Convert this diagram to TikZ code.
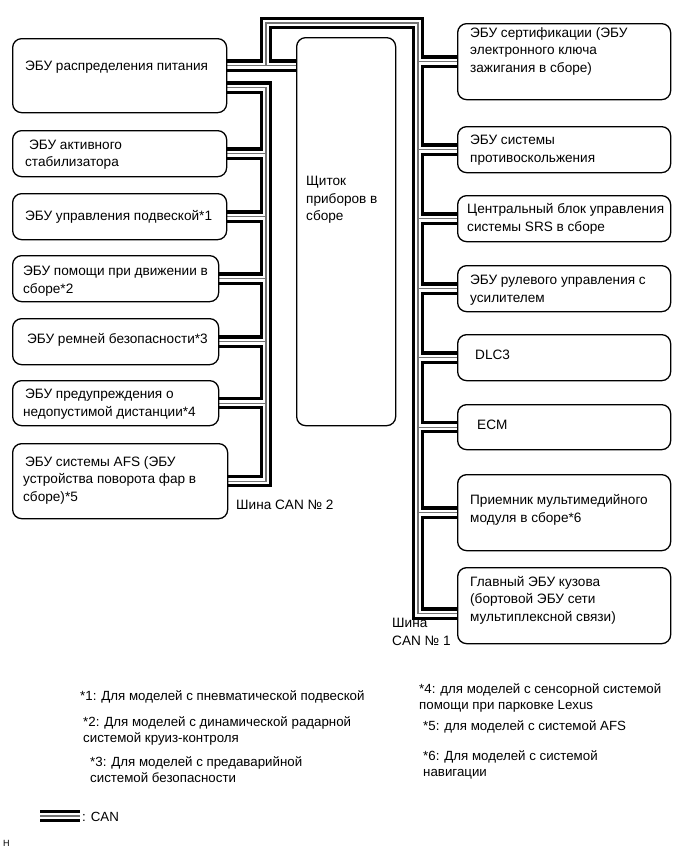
\documentclass[tikz,border=0pt]{standalone}
\usepackage{fontspec}
\setmainfont{Liberation Sans}
\usetikzlibrary{backgrounds}
\newcommand\canbus[1]{%
  \draw[#1] (L1a) -- (L1a -| tL) -- (tL) -- (tR) -- (R8a -| tR) -- (R8a);
  \draw[#1] (L1a -| tL) -- (L1a -| IP.west);
  \draw[#1] (L1b) -- (L1b -| tL) -- (L7.east -| tL) -- (L7.east);
  \foreach \n in {L2,L3,L4,L5,L6} {\draw[#1] (\n.east) -- (\n.east -| tL);}
  \foreach \n in {R1,R2,R3,R4,R5,R6,R7} {\draw[#1] (\n.west) -- (\n.west -| tR);}
  \draw[#1] (lgA) -- (lgB);
}
\begin{document}
\begin{tikzpicture}[x=1bp,y=-1bp,
  box/.style={draw, line width=1.3bp, rounded corners=9bp, fill=white, inner sep=0pt, anchor=north west},
  txt/.style={inner sep=0pt, align=left, anchor=west, font=\fontsize{13.6bp}{17.5bp}\selectfont},
  note/.style={inner sep=0pt, align=left, anchor=west, font=\fontsize{13.3bp}{16bp}\selectfont},
  canA/.style={line width=12.5bp, black, line join=miter, line cap=butt},
  canB/.style={line width=6bp, white, line join=miter, line cap=butt},
  canC/.style={line width=1.2bp, black!55, line join=miter, line cap=butt},
]
\useasboundingbox (0,0) rectangle (691,855);

% boxes
\node[box, minimum width=214bp, minimum height=74bp] (L1) at (12,38) {};
\node[box, minimum width=214bp, minimum height=46bp] (L2) at (12,130) {};
\node[box, minimum width=214bp, minimum height=46bp] (L3) at (12,193) {};
\node[box, minimum width=206bp, minimum height=46bp] (L4) at (12,255) {};
\node[box, minimum width=206bp, minimum height=46bp] (L5) at (12,318) {};
\node[box, minimum width=206bp, minimum height=45bp] (L6) at (12,380) {};
\node[box, minimum width=215bp, minimum height=75bp] (L7) at (12,443) {};
\node[box, minimum width=99bp, minimum height=388bp] (IP) at (296,37) {};
\node[box, minimum width=213bp, minimum height=76bp] (R1) at (457,23) {};
\node[box, minimum width=213bp, minimum height=46bp] (R2) at (457,126) {};
\node[box, minimum width=213bp, minimum height=46bp] (R3) at (457,195) {};
\node[box, minimum width=213bp, minimum height=46bp] (R4) at (457,265) {};
\node[box, minimum width=213bp, minimum height=46bp] (R5) at (457,334) {};
\node[box, minimum width=213bp, minimum height=45bp] (R6) at (457,404) {};
\node[box, minimum width=213bp, minimum height=76bp] (R7) at (457,474) {};
\node[box, minimum width=213bp, minimum height=76bp] (R8) at (457,567) {};

% bus geometry
\coordinate (tL) at (266,23);
\coordinate (tR) at (418,23);
\coordinate (L1a) at ([yshift=10bp]L1.east);
\coordinate (L1b) at ([yshift=-12bp]L1.east);
\coordinate (R8a) at ([yshift=-8bp]R8.west);
\coordinate (lgA) at (40,816);
\coordinate (lgB) at (80,816);

\begin{scope}[on background layer]
  \canbus{canA}
  \canbus{canB}
  \canbus{canC}
\end{scope}

% texts
\node[txt] (tL1) at (25,67) {ЭБУ распределения питания};
\node[txt] (tL2) at (25,154.5) {\hspace*{4bp}ЭБУ активного\\стабилизатора};
\node[txt] (tL3) at (25,217) {ЭБУ управления подвеской*1};
\node[txt] (tL4) at (23,281) {ЭБУ помощи при движении в\\сборе*2};
\node[txt] (tL5) at (27,340) {ЭБУ ремней безопасности*3};
\node[txt] (tL6) at (23,404) {\hspace*{2bp}ЭБУ предупреждения о\\недопустимой дистанции*4};
\node[txt] (tL7) at (23,480) {\hspace*{2bp}ЭБУ системы AFS (ЭБУ\\устройства поворота фар в\\сборе)*5};
\node[txt] (tIP) at (306,200) {Щиток\\приборов в\\сборе};
\node[txt] (tR1) at (470,51) {ЭБУ сертификации (ЭБУ\\электронного ключа\\зажигания в сборе)};
\node[txt] (tR2) at (470,150) {ЭБУ системы\\противоскольжения};
\node[txt] (tR3) at (467,219) {Центральный блок управления\\системы SRS в сборе};
\node[txt] (tR4) at (470,290) {ЭБУ рулевого управления с\\усилителем};
\node[txt] (tR5) at (475,355) {DLC3};
\node[txt] (tR6) at (477,425) {ECM};
\node[txt] (tR7) at (470,510) {Приемник мультимедийного\\модуля в сборе*6};
\node[txt] (tR8) at (470,600) {Главный ЭБУ кузова\\(бортовой ЭБУ сети\\мультиплексной связи)};
\node[txt] (lab2) at (236,505) {Шина CAN № 2};
\node[txt] (lab1) at (392,632) {Шина\\CAN № 1};

% footnotes
\node[note] (n1) at (80,697) {*1: Для моделей с пневматической подвеской};
\node[note] (n2) at (83,731) {*2: Для моделей с динамической радарной\\системой круиз-контроля};
\node[note] (n3) at (90,770) {*3: Для моделей с предаварийной\\системой безопасности};
\node[note] (n4) at (419,698) {*4: для моделей с сенсорной системой\\помощи при парковке Lexus};
\node[note] (n5) at (423,727) {*5: для моделей с системой AFS};
\node[note] (n6) at (423,765) {*6: Для моделей с системой\\навигации};
\node[note] (lg) at (82,817) {: CAN};
\node[inner sep=0pt, anchor=west, font=\fontsize{9bp}{10bp}\selectfont] (hh) at (3,843) {H};
\end{tikzpicture}
\end{document}
